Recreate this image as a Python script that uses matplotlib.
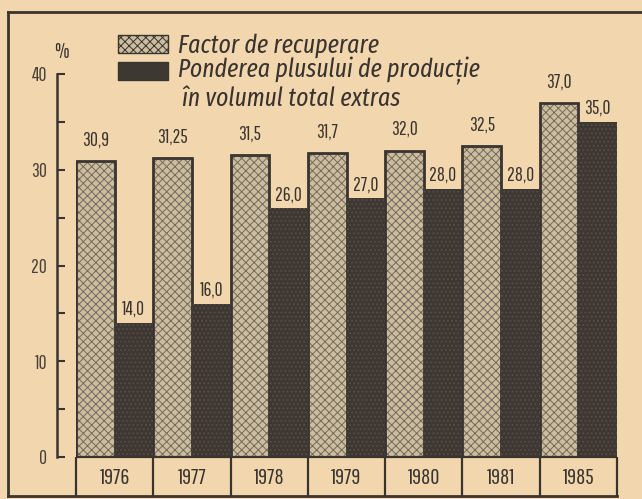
import matplotlib.pyplot as plt
import matplotlib.lines as mlines
import numpy as np

# date
years = ["1976", "1977", "1978", "1979", "1980", "1981", "1985"]
recuperare = [30.9, 31.25, 31.5, 31.7, 32.0, 32.5, 37.0]
pondere = [14.0, 16.0, 26.0, 27.0, 28.0, 28.0, 35.0]
recuperare_txt = ["30,9", "31,25", "31,5", "31,7", "32,0", "32,5", "37,0"]
pondere_txt = ["14,0", "16,0", "26,0", "27,0", "28,0", "28,0", "35,0"]
yticks = [0, 10, 20, 30, 40]
ytick_txt = ["0", "10", "20", "30", "40"]

paper = "#f2d7ae"
ink = "#3a3430"
W, H = 642, 499

num_font = ['Pathway Gothic One', 'DejaVu Sans']
leg_family = ['Fira Sans Extra Condensed', 'DejaVu Sans']
plt.rcParams['font.family'] = num_font
plt.rcParams['hatch.linewidth'] = 0.7

fig = plt.figure(figsize=(6.42, 4.99), dpi=100, facecolor=paper)
ax = fig.add_axes([76 / W, (H - 457) / H, (617 - 76) / W, (457 - 74) / H])
ax.set_facecolor("none")

x = np.arange(len(years))
bw = 0.5
ax.bar(x + bw / 2, recuperare, width=bw, color="#cdbd9f", edgecolor="#746a5c",
       hatch="xxxx", linewidth=0)
ax.bar(x + bw / 2, recuperare, width=bw, fill=False, edgecolor=ink, linewidth=2)
ax.bar(x + 1.5 * bw, pondere, width=bw, color="#3e3833", edgecolor="#57504a",
       hatch="....", linewidth=0)

for i in range(len(years)):
    ax.text(x[i] + bw / 2, recuperare[i] + 1.2, recuperare_txt[i], ha="center",
            va="bottom", fontsize=14, color=ink)
    ax.text(x[i] + 1.5 * bw, pondere[i] + 0.4, pondere_txt[i], ha="center",
            va="bottom", fontsize=14, color=ink)

ax.set_xlim(0, len(years))
ax.set_ylim(0, 40)
ax.set_xticks([])
ax.set_yticks(yticks)
ax.set_yticklabels(ytick_txt)
ax.set_yticks([5, 15, 25, 35], minor=True)
for s in ["top", "right", "bottom"]:
    ax.spines[s].set_visible(False)
ax.spines["left"].set_position(("outward", 13.7))
ax.spines["left"].set_linewidth(1.8)
ax.spines["left"].set_color(ink)
ax.spines["left"].set_bounds(0, 40)
ax.tick_params(axis="y", which="both", direction="in", length=5.5, width=1.5,
               color=ink, labelcolor="#4a423a", labelsize=14, pad=7)

# tabel cu anii
tr = ax.get_xaxis_transform()
ax.vlines(np.arange(len(years) + 1), -0.103, 0, transform=tr, colors=ink,
          linewidth=1.6, clip_on=False)
ax.hlines(0, 0, len(years), transform=tr, colors=ink, linewidth=1.6, clip_on=False)
for i, yr in enumerate(years):
    ax.text(x[i] + 0.5, -0.055, yr, transform=tr, ha="center", va="center",
            fontsize=16, color=ink)

ax.text(-0.026, 1.057, "%", transform=ax.transAxes, ha="center", va="center",
        fontsize=15, color=ink)

# legenda
fig.patches.append(plt.Rectangle((118 / W, 1 - 53 / H), 50 / W, 18 / H,
                                 transform=fig.transFigure, facecolor="#cdbd9f",
                                 edgecolor=ink, hatch="xxxx", linewidth=1))
fig.patches.append(plt.Rectangle((118 / W, 1 - 80 / H), 50 / W, 18 / H,
                                 transform=fig.transFigure, facecolor="#3e3833",
                                 edgecolor=ink, linewidth=1))
leg_font = dict(fontsize=18.5, style="italic", family=leg_family,
                color=ink, va="center", ha="left")
fig.text(178 / W, 1 - 45 / H, "Factor de recuperare", **leg_font)
fig.text(178 / W, 1 - 71 / H, "Ponderea plusului de producție", **leg_font)
fig.text(182 / W, 1 - 99 / H, "în volumul total extras", **leg_font)

# chenar
def fline(x0, y0, x1, y1):
    fig.add_artist(mlines.Line2D([x0 / W, x1 / W], [1 - y0 / H, 1 - y1 / H],
                                 transform=fig.transFigure, color=ink, linewidth=2))

fline(8, 12, 642, 12)
fline(8, 12, 8, 496)
fline(8, 496, 617, 496)

fig.savefig("out.png", dpi=100, facecolor=paper)
